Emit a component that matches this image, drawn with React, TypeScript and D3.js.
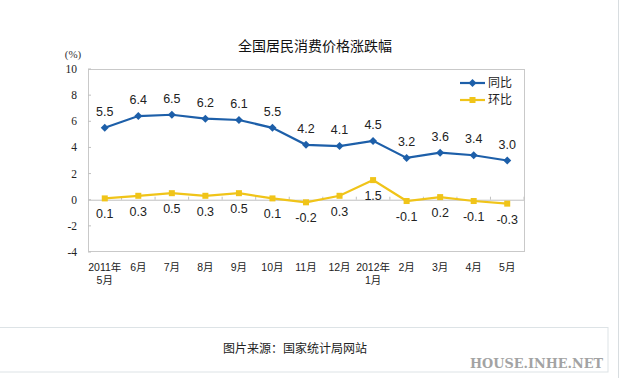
import React from "react";
import * as d3 from "d3";

const categories = ["2011年\n5月", "6月", "7月", "8月", "9月", "10月", "11月", "12月", "2012年\n1月", "2月", "3月", "4月", "5月"];
const yoy = [5.5, 6.4, 6.5, 6.2, 6.1, 5.5, 4.2, 4.1, 4.5, 3.2, 3.6, 3.4, 3.0];
const mom = [0.1, 0.3, 0.5, 0.3, 0.5, 0.1, -0.2, 0.3, 1.5, -0.1, 0.2, -0.1, -0.3];
const yTicks = [-4, -2, 0, 2, 4, 6, 8, 10];
const seriesNames = ["同比", "环比"];

const W = 620, H = 378;
const M = { left: 88, right: 524, top: 69, bottom: 252 };
const BLUE = "#1d5fa9";
const YELLOW = "#f0c419";
const CJK = "'Liberation Sans', Arial, 'Noto Sans CJK SC', sans-serif";
const SERIF = "'Liberation Serif', 'Noto Sans CJK SC', serif";

export default function App() {
  const x = d3.scaleBand<string>().domain(categories).range([M.left, M.right]);
  const y = d3.scaleLinear().domain([-4, 10]).range([M.bottom, M.top]);
  const cx = (i: number) => (x(categories[i]) as number) + x.bandwidth() / 2;
  const line = d3.line<number>().x((_, i) => cx(i)).y((d) => y(d));
  const diamond = (px: number, py: number, r = 4) => `M${px},${py - r}L${px + r},${py}L${px},${py + r}L${px - r},${py}Z`;

  return (
    <svg width={W} height={H} style={{ position: "absolute", left: 0, top: 0, background: "#fff" }}>
      <rect x={0} y={0} width={W} height={H} fill="#fff" />
      <line x1={618.5} x2={618.5} y1={0} y2={H} stroke="#d8dde0" />
      <text x={315} y={51} textAnchor="middle" fontFamily={CJK} fontSize={14} fill="#111">全国居民消费价格涨跌幅</text>
      <text x={73} y={58} textAnchor="middle" fontFamily={SERIF} fontSize={11} fill="#333">(%)</text>
      <rect x={M.left + 0.5} y={M.top + 0.5} width={M.right - M.left} height={M.bottom - M.top - 1} fill="none" stroke="#c9c9c9" />
      {yTicks.map((t) => (
        <g key={t}>
          <text x={77} y={y(t) + 4} textAnchor="end" fontFamily={SERIF} fontSize={11.5} fill="#222">{t}</text>
          <line x1={M.left} x2={M.left + 3} y1={y(t)} y2={y(t)} stroke="#c0c0c0" />
        </g>
      ))}
      <line x1={M.left} x2={M.right} y1={y(0) + 0.5} y2={y(0) + 0.5} stroke="#c0c0c0" />
      {categories.map((c, i) => (
        <line key={"tk" + i} x1={(x(c) as number) + x.bandwidth()} x2={(x(c) as number) + x.bandwidth()} y1={y(0) - 3} y2={y(0)} stroke="#c0c0c0" />
      ))}
      {categories.map((c, i) => (
        <text key={"xl" + i} textAnchor="middle" fontFamily={CJK} fontSize={10.5} fill="#222">
          {c.split("\n").map((s, j) => (
            <tspan key={j} x={cx(i)} y={271 + j * 13}>{s}</tspan>
          ))}
        </text>
      ))}
      <path d={line(mom) || ""} fill="none" stroke={YELLOW} strokeWidth={2.2} />
      {mom.map((v, i) => (
        <rect key={"mm" + i} x={cx(i) - 3} y={y(v) - 3} width={6} height={6} fill={YELLOW} />
      ))}
      <path d={line(yoy) || ""} fill="none" stroke={BLUE} strokeWidth={2.2} />
      {yoy.map((v, i) => (
        <path key={"ym" + i} d={diamond(cx(i), y(v))} fill={BLUE} />
      ))}
      {yoy.map((v, i) => (
        <text key={"yl" + i} x={cx(i)} y={y(v) - 12} textAnchor="middle" fontFamily={CJK} fontSize={12.5} fill="#222">{v.toFixed(1)}</text>
      ))}
      {mom.map((v, i) => (
        <text key={"ml" + i} x={cx(i)} y={y(v) + 20} textAnchor="middle" fontFamily={CJK} fontSize={12.5} fill="#222">{v.toFixed(1)}</text>
      ))}
      <g>
        <line x1={460} x2={485} y1={83} y2={83} stroke={BLUE} strokeWidth={2.2} />
        <path d={diamond(472.5, 83)} fill={BLUE} />
        <text x={488} y={87} fontFamily={CJK} fontSize={12} fill="#222">{seriesNames[0]}</text>
        <line x1={460} x2={485} y1={100} y2={100} stroke={YELLOW} strokeWidth={2.2} />
        <rect x={469.5} y={97} width={6} height={6} fill={YELLOW} />
        <text x={488} y={104} fontFamily={CJK} fontSize={12} fill="#222">{seriesNames[1]}</text>
      </g>
      <rect x={-1} y={327.5} width={609} height={44.5} fill="none" stroke="#dde3e6" />
      <text x={295} y={353} textAnchor="middle" fontFamily={CJK} fontSize={12} fill="#222">图片来源：国家统计局网站</text>
      <text x={470} y={367.5} textLength={133} lengthAdjust="spacingAndGlyphs" fontFamily="'DejaVu Serif', serif" fontWeight="bold" fontSize={12} fill="#a3a3a3">HOUSE.INHE.NET</text>
    </svg>
  );
}
